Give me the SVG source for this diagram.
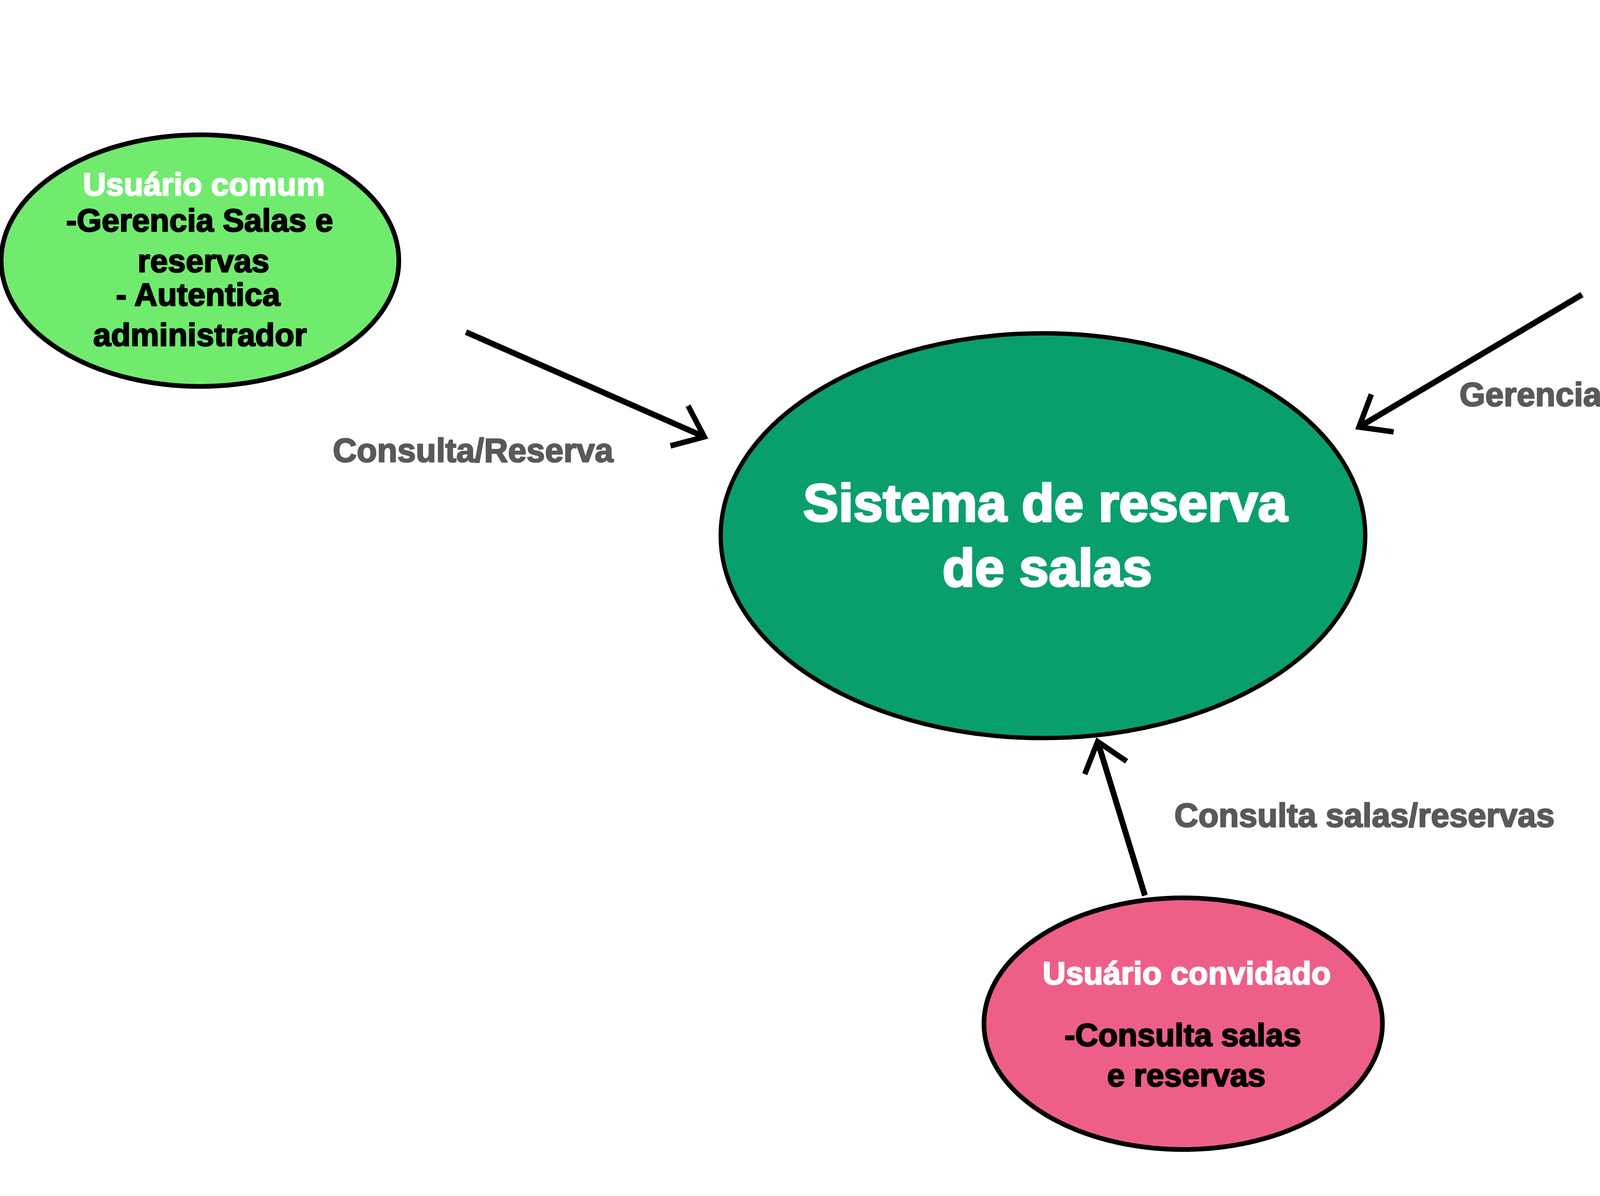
<svg xmlns="http://www.w3.org/2000/svg" width="5443" height="3061" viewBox="0 0 5443 3061">
<style>
.node{stroke:#000;stroke-width:12}
.t{font-family:"Liberation Sans",Arial,sans-serif;font-weight:bold;text-anchor:middle;stroke-linejoin:round}
.w{fill:#fff;stroke:#fff;stroke-width:3}
.b{fill:#000;stroke:#000;stroke-width:3}
.n{font-size:82px}
.lbl{font-size:85px;fill:#595959;stroke:#595959;stroke-width:3}
.main{font-size:136px;stroke-width:5}
.edge{stroke:#000;stroke-width:15;fill:none}
</style>
<defs>
<marker id="arrow" markerUnits="userSpaceOnUse" viewBox="-100 -80 120 160" markerWidth="120" markerHeight="160" refX="0" refY="0" orient="auto" overflow="visible">
<path d="M -70 -56 L 0 0 L -70 56" fill="none" stroke="#000" stroke-width="14"/>
</marker>
</defs>
<rect width="5443" height="3061" fill="#fff"/>
<g id="connectors">
<line class="edge" x1="1193" y1="850" x2="1803" y2="1118" marker-end="url(#arrow)"/>
<line class="edge" x1="4050" y1="754" x2="3479" y2="1093" marker-end="url(#arrow)"/>
<line class="edge" x1="2931" y1="2292" x2="2810" y2="1898" marker-end="url(#arrow)"/>
<text class="t lbl" x="1211" y="1182">Consulta/Reserva</text>
<text class="t lbl" x="4223" y="1039">Gerencia salas/reservas</text>
<text class="t lbl" x="3493" y="2116">Consulta salas/reservas</text>
</g>
<g id="sistema">
<ellipse class="node" cx="2670" cy="1371" rx="825" ry="518" fill="#099F6C" style="stroke-width:11"/>
<text class="t w main" x="2676" y="1334">Sistema de reserva</text>
<text class="t w main" x="2681" y="1500">de salas</text>
</g>
<g id="usuario-comum">
<ellipse class="node" cx="512" cy="667" rx="509" ry="322" fill="#70EB6E"/>
<text class="t w n" x="522" y="500">Usuário comum</text>
<text class="t b n" x="511" y="592">-Gerencia Salas e</text>
<text class="t b n" x="521" y="696">reservas</text>
<text class="t b n" x="507" y="782">- Autentica</text>
<text class="t b n" x="512" y="885">administrador</text>
</g>
<g id="administrador">
<ellipse class="node" cx="4653" cy="533" rx="510" ry="321" fill="#726CEB"/>
<text class="t w n" x="4656" y="384">Admnistrador</text>
<text class="t b n" x="4653" y="517">-Gerencia Salas e</text>
<text class="t b n" x="4663" y="621">reservas</text>
<text class="t b n" x="4655" y="735">-Autentica</text>
</g>
<g id="usuario-convidado">
<ellipse class="node" cx="3029" cy="2620" rx="510" ry="322" fill="#EE5F87"/>
<text class="t w n" x="3038" y="2519">Usuário convidado</text>
<text class="t b n" x="3028" y="2677">-Consulta salas</text>
<text class="t b n" x="3037" y="2780">e reservas</text>
</g>
</svg>
